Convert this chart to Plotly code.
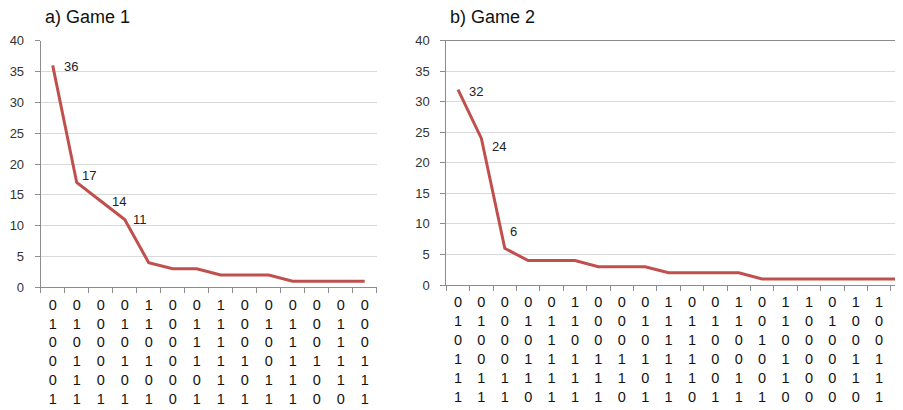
import plotly.graph_objects as go

# ---------------- data ----------------
g1_values = [36, 17, 14, 11, 4, 3, 3, 2, 2, 2, 1, 1, 1, 1]
g1_rows = [
    [0, 0, 0, 0, 1, 0, 0, 1, 0, 0, 0, 0, 0, 0],
    [1, 1, 0, 1, 1, 0, 1, 1, 0, 1, 1, 0, 1, 0],
    [0, 0, 0, 0, 0, 0, 1, 1, 0, 0, 1, 0, 1, 0],
    [0, 1, 0, 1, 1, 0, 1, 1, 1, 0, 1, 1, 1, 1],
    [0, 1, 0, 0, 0, 0, 0, 1, 0, 1, 1, 0, 1, 1],
    [1, 1, 1, 1, 1, 0, 1, 1, 1, 1, 1, 0, 0, 1],
]
g1_labelled = [0, 1, 2, 3]          # indices of points carrying a value label

g2_values = [32, 24, 6, 4, 4, 4, 3, 3, 3, 2, 2, 2, 2, 1, 1, 1, 1, 1, 1, 1]
g2_rows = [
    [0, 0, 0, 0, 0, 1, 0, 0, 0, 1, 0, 0, 1, 0, 1, 1, 0, 1, 1, 0],
    [1, 1, 0, 1, 1, 1, 0, 0, 1, 1, 1, 1, 1, 0, 1, 0, 1, 0, 0, 0],
    [0, 0, 0, 0, 1, 0, 0, 0, 0, 1, 1, 0, 0, 1, 0, 0, 0, 0, 0, 1],
    [1, 0, 0, 1, 1, 1, 1, 1, 1, 1, 1, 0, 0, 0, 1, 0, 0, 1, 1, 1],
    [1, 1, 1, 1, 1, 1, 1, 1, 0, 1, 1, 0, 1, 0, 1, 0, 0, 1, 1, 0],
    [1, 1, 1, 0, 1, 1, 1, 0, 1, 1, 0, 1, 1, 1, 0, 0, 0, 0, 1, 0],
]
g2_labelled = [0, 1, 2]

titles = ["a) Game 1", "b) Game 2"]
y_ticks = [0, 5, 10, 15, 20, 25, 30, 35, 40]

# label offsets (styling only, pixels: right, up)
g1_label_shift = [(17.8, -1), (12.5, 6.7), (18, -1), (15, 0)]
g2_label_shift = [(17.9, -1.7), (17.5, -8.3), (9.2, 16.7)]


def col_text(rows):
    n = len(rows[0])
    return ["<br>".join(str(r[i]) for r in rows) for i in range(n)]


g1_x = list(range(len(g1_values)))
g2_x = list(range(len(g2_values)))

LINE = "#C0504D"
SW, SH = 903, 410       # screen size
OFF = 8                 # page body margin
W, H = SW - OFF, SH - OFF
FONT = "Liberation Sans, Arial, sans-serif"


def px_x(sx):
    return (sx - OFF) / W


def px_y(sy):
    return (SH - sy) / H


fig = go.Figure()
fig.add_trace(go.Scatter(x=g1_x, y=g1_values, mode="lines",
                         line=dict(color=LINE, width=3), xaxis="x", yaxis="y",
                         showlegend=False, hoverinfo="skip"))
fig.add_trace(go.Scatter(x=g2_x, y=g2_values, mode="lines",
                         line=dict(color=LINE, width=3), xaxis="x2", yaxis="y2",
                         showlegend=False, hoverinfo="skip"))

xcommon = dict(showgrid=False, showline=True, linecolor="#8C8C8C", linewidth=1,
               ticks="", tickmode="array", automargin=False,
               tickfont=dict(size=14.5, color="#111111", family=FONT), zeroline=False,
               ticklabelstandoff=4, ticklabeloverflow="allow")
ycommon = dict(range=[0, 40], tickvals=y_ticks, showgrid=True, gridcolor="#D9D9D9",
               gridwidth=1, showline=True, linecolor="#8C8C8C", linewidth=1,
               ticks="outside", ticklen=5, tickcolor="#8C8C8C", zeroline=False,
               automargin=False,
               tickfont=dict(size=13, color="#333333", family=FONT),
               ticklabelstandoff=8)


def minor(n):
    return dict(tickvals=[i - 0.5 for i in range(n + 1)], ticks="outside", ticklen=5,
                tickcolor="#8C8C8C", showgrid=False)


annotations = [
    dict(text=titles[0], x=px_x(43), y=px_y(16.5), xref="paper", yref="paper",
         xanchor="left", yanchor="middle", showarrow=False,
         font=dict(size=18, color="#111111", family=FONT)),
    dict(text=titles[1], x=px_x(448), y=px_y(16.5), xref="paper", yref="paper",
         xanchor="left", yanchor="middle", showarrow=False,
         font=dict(size=18, color="#111111", family=FONT)),
]
for idx, (dx, dy) in zip(g1_labelled, g1_label_shift):
    annotations.append(dict(text=str(g1_values[idx]), x=g1_x[idx], y=g1_values[idx],
                            xref="x", yref="y", showarrow=False, xshift=dx, yshift=dy,
                            font=dict(size=13, color="#222222", family=FONT)))
for idx, (dx, dy) in zip(g2_labelled, g2_label_shift):
    annotations.append(dict(text=str(g2_values[idx]), x=g2_x[idx], y=g2_values[idx],
                            xref="x2", yref="y2", showarrow=False, xshift=dx, yshift=dy,
                            font=dict(size=13, color="#222222", family=FONT)))

fig.update_layout(
    template="none",
    width=W, height=H, margin=dict(l=0, r=0, t=0, b=0),
    paper_bgcolor="white", plot_bgcolor="white",
    xaxis=dict(domain=[px_x(40.7), px_x(376.7)], range=[-0.5, len(g1_values) - 0.5],
               tickvals=g1_x, ticktext=col_text(g1_rows), anchor="y",
               minor=minor(len(g1_values)), **xcommon),
    yaxis=dict(domain=[px_y(287.3), px_y(40.7)], anchor="x", **ycommon),
    xaxis2=dict(domain=[px_x(446.3), 1.0], range=[-0.5, 19.02], mirror=True,
                tickvals=g2_x, ticktext=col_text(g2_rows), anchor="y2",
                minor=minor(len(g2_values)), **xcommon),
    yaxis2=dict(domain=[px_y(285.0), px_y(40.7)], anchor="x2", **ycommon),
    annotations=annotations,
)

fig.write_html("out.html")
